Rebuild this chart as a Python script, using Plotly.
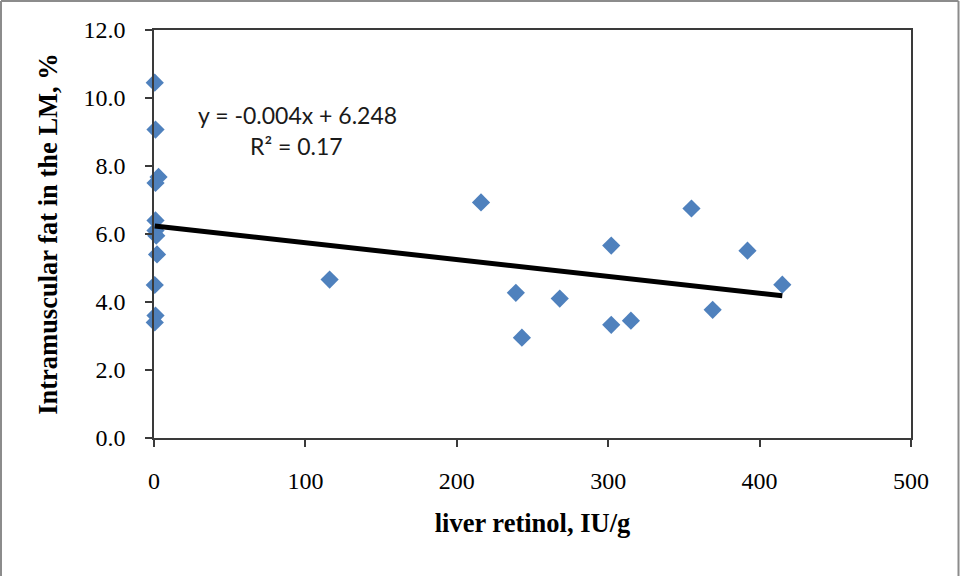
import numpy as np
import plotly.graph_objects as go

# Data
retinol = [0.5, 1, 3, 1, 1, 1, 1.5, 2, 0.5, 1, 0.5,
           116, 216, 239, 243, 268, 302, 302, 315, 355, 369, 392, 415]
fat = [10.45, 9.07, 7.68, 7.5, 6.4, 6.1, 5.95, 5.4, 4.5, 3.6, 3.4,
       4.66, 6.93, 4.27, 2.95, 4.10, 5.66, 3.33, 3.45, 6.75, 3.77, 5.51, 4.51]

eq_text = "y = -0.004x + 6.248"
r2_text = "R² = 0.17"
x_title = "liver retinol, IU/g"
y_title = "Intramuscular fat in the LM, %"

# Linear trendline fitted to the data, drawn over the data's x range
slope, intercept = np.polyfit(retinol, fat, 1)
x_tr = [min(retinol), max(retinol)]
y_tr = [slope * v + intercept for v in x_tr]

serif = "Liberation Serif, Times New Roman, serif"

fig = go.Figure()
fig.add_trace(go.Scatter(
    x=retinol, y=fat, mode="markers",
    marker=dict(symbol="diamond", size=14, color="#4F81BD",
                line=dict(width=0)),
    showlegend=False, cliponaxis=False,
))
fig.add_trace(go.Scatter(
    x=x_tr, y=y_tr, mode="lines",
    line=dict(color="black", width=5),
    showlegend=False,
))

fig.add_annotation(x=95, y=9.5, xref="x", yref="y", text=eq_text,
                   showarrow=False, font=dict(family="Lato, sans-serif", size=23, color="#1a1a1a"))
fig.add_annotation(x=94, y=8.6, xref="x", yref="y", text=r2_text,
                   showarrow=False, font=dict(family="Lato, sans-serif", size=23, color="#1a1a1a"))

# Outer chart-area frame
border = dict(color="#8c8c8c", width=2)
L, R, T, B = (1 - 154) / 757, (958.5 - 154) / 757, (438 - 1) / 408, (438 - 580) / 408
fig.add_shape(type="line", xref="paper", yref="paper", x0=L, x1=L, y0=B, y1=T, line=border)
fig.add_shape(type="line", xref="paper", yref="paper", x0=L, x1=R, y0=T, y1=T, line=border)
fig.add_shape(type="line", xref="paper", yref="paper", x0=R, x1=R, y0=B, y1=T, line=border)

fig.update_layout(
    width=960, height=576,
    margin=dict(l=154, r=49, t=30, b=138),
    paper_bgcolor="white", plot_bgcolor="white",
    font=dict(family=serif, color="black"),
    xaxis=dict(
        range=[0, 500], dtick=100, tick0=0,
        showgrid=False, zeroline=False,
        showline=True, linecolor="#3a3a3a", linewidth=1.5, mirror=True,
        ticks="outside", ticklen=7, tickcolor="#3a3a3a", tickwidth=1.5,
        tickfont=dict(family=serif, size=24, color="black"),
        ticklabelstandoff=13,
        title=dict(text="<b>" + x_title + "</b>", standoff=21,
                   font=dict(family=serif, size=26.5, color="black")),
    ),
    yaxis=dict(
        range=[0, 12], dtick=2, tick0=0, tickformat=".1f",
        showgrid=False, zeroline=False,
        showline=True, linecolor="#3a3a3a", linewidth=1.5, mirror=True,
        ticks="outside", ticklen=7, tickcolor="#3a3a3a", tickwidth=1.5,
        tickfont=dict(family=serif, size=24, color="black"),
        ticklabelstandoff=15,
        title=dict(text="<b>" + y_title + "</b>", standoff=18,
                   font=dict(family=serif, size=26.5, color="black")),
    ),
)

fig.write_html("out.html")
